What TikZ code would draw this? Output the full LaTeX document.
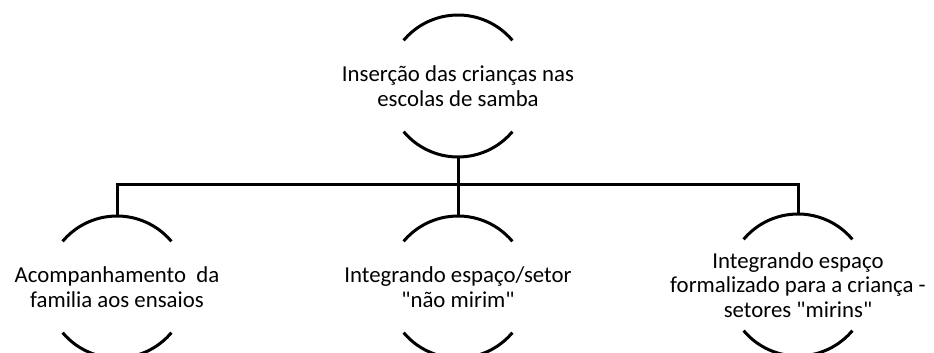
\documentclass[tikz,border=0pt]{standalone}
\usepackage{fontspec}
\setmainfont{Carlito}
\begin{document}
\begin{tikzpicture}[x=1pt,y=1pt,
  lbl/.style={rectangle,minimum height=142pt,minimum width=142pt,inner sep=0pt,align=center,font=\fontsize{22.8}{24.8}\selectfont},
  edge/.style={line width=3pt},
  arcline/.style={line width=3pt}]
\useasboundingbox (0,0) rectangle (934,353);
\node[lbl] (top) at (458,267) {Inserção das crianças nas\\escolas de samba};
\node[lbl] (left) at (117,66) {Acompanhamento~ da\\familia aos ensaios};
\node[lbl] (mid) at (458,66) {Integrando espaço/setor\\\textquotedbl não mirim\textquotedbl};
\node[lbl] (right) at (798,68) {Integrando espaço\\formalizado para a criança -\\setores \textquotedbl mirins\textquotedbl};
\coordinate (bus) at (458,168);
\foreach \n in {top,left,mid,right}{
  \draw[arcline] ([shift={(40:71pt)}]\n.center) arc (40:140:71pt);
  \draw[arcline] ([shift={(220:71pt)}]\n.center) arc (220:320:71pt);
}
\draw[edge] (top.south) -- (mid.north);
\draw[edge] (left.north) |- (bus) -| (right.north);
\end{tikzpicture}
\end{document}
